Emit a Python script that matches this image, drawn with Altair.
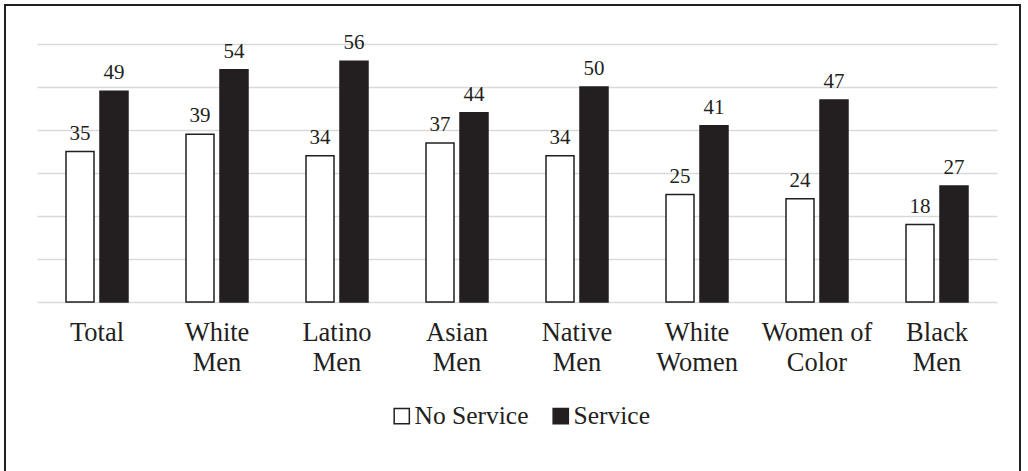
import altair as alt
import pandas as pd

# Category labels ("|" marks a line break on the axis)
categories = ["Total", "White|Men", "Latino|Men", "Asian|Men", "Native|Men",
              "White|Women", "Women of|Color", "Black|Men"]
no_service = [35, 39, 34, 37, 34, 25, 24, 18]
service = [49, 54, 56, 44, 50, 41, 47, 27]
groups = ["No Service", "Service"]

rows = []
for cat, a, b in zip(categories, no_service, service):
    rows.append({"category": cat, "group": groups[0], "value": a})
    rows.append({"category": cat, "group": groups[1], "value": b})
df = pd.DataFrame(rows)

INK = "#231f20"
FONT = "Liberation Serif"

x_enc = alt.X("category:N", sort=categories, title=None,
              scale=alt.Scale(paddingInner=0, paddingOuter=0),
              axis=alt.Axis(labelExpr="split(datum.label, '|')", labelAngle=0,
                            labelFontSize=26.5, labelLineHeight=30.5, labelPadding=17,
                            labelColor=INK, labelFont=FONT, labelBaseline="top",
                            domain=False, ticks=False, grid=False))
xoff_enc = alt.XOffset("group:N", sort=groups,
                       scale=alt.Scale(paddingInner=0.176, paddingOuter=0.853))
y_enc = alt.Y("value:Q", title=None,
              scale=alt.Scale(domain=[0, 60], nice=False),
              axis=alt.Axis(values=[0, 10, 20, 30, 40, 50, 60], labels=False,
                            ticks=False, domain=False, grid=True,
                            gridColor="#d9d9d9", gridWidth=1.5))

bars = alt.Chart(df).mark_bar(stroke=INK, strokeWidth=1.5).encode(
    x=x_enc,
    xOffset=xoff_enc,
    y=y_enc,
    color=alt.Color("group:N", sort=groups, title=None,
                    scale=alt.Scale(domain=groups, range=["#ffffff", INK]),
                    legend=alt.Legend(orient="none", legendX=352, legendY=359,
                                      direction="horizontal", symbolType="square",
                                      symbolSize=230, symbolStrokeColor=INK,
                                      symbolStrokeWidth=1.5, labelFontSize=25.5,
                                      labelFont=FONT, labelColor=INK,
                                      labelOffset=0, columnPadding=19,
                                      padding=0)),
)

labels = alt.Chart(df).mark_text(baseline="alphabetic", dy=-12, fontSize=21,
                                 font=FONT, color=INK).encode(
    x=alt.X("category:N", sort=categories),
    xOffset=alt.XOffset("group:N", sort=groups),
    y="value:Q",
    text="value:Q",
)

# Outer frame drawn around the whole figure
frame = alt.Chart(pd.DataFrame({"f": [0]})).mark_rect(
    fill=None, stroke=INK, strokeWidth=2).encode(
    x=alt.value(-32), x2=alt.value(983), y=alt.value(-39), y2=alt.value(480))

chart = alt.layer(frame, bars, labels).properties(
    width=960, height=258,
    background="white",
    autosize=alt.AutoSizeParams(type="none"),
    padding={"left": 37, "right": 31, "top": 44, "bottom": 169},
).configure_view(strokeWidth=0)

chart.save("out.html", embed_options={"renderer": "svg", "actions": False})
